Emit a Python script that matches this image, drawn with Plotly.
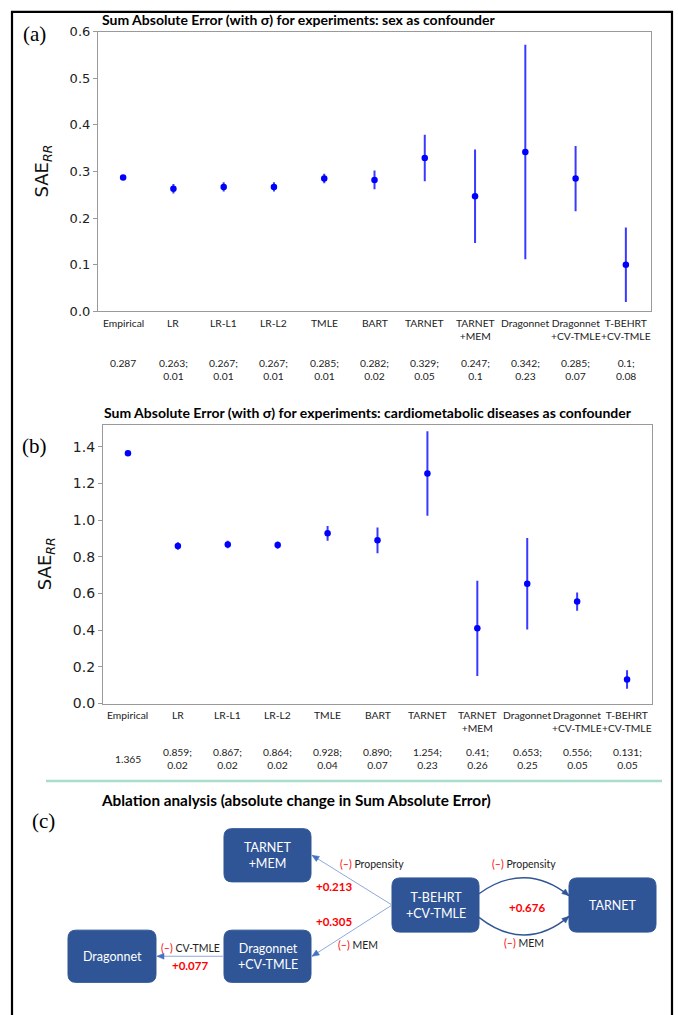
import plotly.graph_objects as go

# ---------------- data ----------------
categories = ["Empirical", "LR", "LR-L1", "LR-L2", "TMLE", "BART", "TARNET",
              "TARNET<br>+MEM", "Dragonnet", "Dragonnet<br>+CV-TMLE", "T-BEHRT<br>+CV-TMLE"]

sex_mean = ["0.287", "0.263", "0.267", "0.267", "0.285", "0.282", "0.329",
            "0.247", "0.342", "0.285", "0.1"]
sex_sd = ["", "0.01", "0.01", "0.01", "0.01", "0.02", "0.05", "0.1", "0.23", "0.07", "0.08"]

cardio_mean = ["1.365", "0.859", "0.867", "0.864", "0.928", "0.890", "1.254",
               "0.41", "0.653", "0.556", "0.131"]
cardio_sd = ["", "0.02", "0.02", "0.02", "0.04", "0.07", "0.23", "0.26", "0.25", "0.05", "0.05"]

sex_ticks = [0.0, 0.1, 0.2, 0.3, 0.4, 0.5, 0.6]
cardio_ticks = [0.0, 0.2, 0.4, 0.6, 0.8, 1.0, 1.2, 1.4]

title_a = "Sum Absolute Error (with σ) for experiments: sex as confounder"
title_b = "Sum Absolute Error (with σ) for experiments: cardiometabolic diseases as confounder"
title_c = "Ablation analysis (absolute change in Sum Absolute Error)"

# ablation diagram data
nodes = ["TARNET+MEM", "Dragonnet+CV-TMLE", "Dragonnet", "T-BEHRT+CV-TMLE", "TARNET"]
node_text = ["TARNET<br>+MEM", "Dragonnet<br>+CV-TMLE", "Dragonnet", "T-BEHRT<br>+CV-TMLE", "TARNET"]
edge_from = ["T-BEHRT+CV-TMLE", "T-BEHRT+CV-TMLE", "Dragonnet+CV-TMLE", "T-BEHRT+CV-TMLE"]
edge_to = ["TARNET+MEM", "Dragonnet+CV-TMLE", "Dragonnet", "TARNET"]
edge_removed = [["Propensity"], ["MEM"], ["CV-TMLE"], ["Propensity", "MEM"]]
edge_delta = [0.213, 0.305, 0.077, 0.676]

# ---------------- layout helpers (pixels -> paper) ----------------
W, H = 678, 1015
def px(x): return x / W
def py(y): return 1 - y / H

BLUE = "#0000FF"
BOX = "#2F5597"
TABLE_FONT = "Lato"

fig = go.Figure()

panels = [
    dict(mean=sex_mean, sd=sex_sd, xa="x", ya="y", xdom=(98, 651), ydom=(25, 309),
         yr=[0, 0.6], ticks=sex_ticks, tfs=13, title=title_a, tx=100, ty=13,
         lab="(a)", labx=34, laby=27, ytx=43,
         name_top=313, val_top=353, emp_mid=False),
    dict(mean=cardio_mean, sd=cardio_sd, xa="x2", ya="y2", xdom=(103, 652), ydom=(424, 707),
         yr=[0, 1.52], ticks=cardio_ticks, tfs=14, title=title_b, tx=102, ty=412,
         lab="(b)", labx=34, laby=446, ytx=46,
         name_top=710, val_top=748, emp_mid=True),
]

annotations = []
shapes = []

for i, p in enumerate(panels):
    means = [float(v) for v in p["mean"]]
    sds = [float(v) if v else 0.0 for v in p["sd"]]
    fig.add_trace(go.Scatter(
        x=list(range(len(categories))), y=means, mode="markers",
        marker=dict(color=BLUE, size=6.5),
        error_y=dict(type="data", array=sds, color="#3A3AFF", thickness=2, width=0),
        xaxis=p["xa"], yaxis=p["ya"], hoverinfo="skip"))

    xkey = "xaxis" if i == 0 else "xaxis2"
    ykey = "yaxis" if i == 0 else "yaxis2"
    fig.update_layout(**{
        xkey: dict(domain=[px(p["xdom"][0]), px(p["xdom"][1])], range=[-0.5, 10.5],
                   showgrid=False, zeroline=False, showticklabels=False, ticks="",
                   showline=True, mirror=True, linecolor="#9a9a9a", linewidth=1.2,
                   anchor=p["ya"]),
        ykey: dict(domain=[py(p["ydom"][1]), py(p["ydom"][0])], range=p["yr"],
                   tickvals=p["ticks"], ticktext=[f"{t:.1f}" for t in p["ticks"]],
                   ticks="outside", ticklen=4, tickcolor="#9a9a9a",
                   tickfont=dict(family="DejaVu Sans", size=p["tfs"], color="#222"),
                   showgrid=False, zeroline=False, showline=True, mirror=True,
                   linecolor="#9a9a9a", linewidth=1.2, anchor=p["xa"]),
    })

    # title
    annotations.append(dict(text=f"<b>{p['title']}</b>", x=px(p["tx"]), y=py(p["ty"]),
                            xref="paper", yref="paper", xanchor="left", yanchor="middle",
                            showarrow=False, font=dict(family=TABLE_FONT, size=14, color="black")))
    # panel label
    annotations.append(dict(text=p["lab"], x=px(p["labx"]), y=py(p["laby"]),
                            xref="paper", yref="paper", xanchor="center", yanchor="middle",
                            showarrow=False, font=dict(family="Liberation Serif", size=21, color="black")))
    # y title
    yc = (p["ydom"][0] + p["ydom"][1]) / 2
    annotations.append(dict(text="SAE<sub><i>RR</i></sub>", x=px(p["ytx"]), y=py(yc),
                            xref="paper", yref="paper", xanchor="center", yanchor="middle",
                            textangle=-90, showarrow=False,
                            font=dict(family="DejaVu Sans", size=18, color="#111")))
    # category table
    for k, cat in enumerate(categories):
        annotations.append(dict(text=cat, x=k, y=py(p["name_top"]), xref=p["xa"], yref="paper",
                                xanchor="center", yanchor="top", showarrow=False, align="center",
                                font=dict(family=TABLE_FONT, size=10.3, color="#222")))
        if p["sd"][k]:
            txt = f"{p['mean'][k]};<br>{p['sd'][k]}"
            yv, ya = py(p["val_top"]), "top"
        else:
            txt = p["mean"][k]
            if p["emp_mid"]:
                yv, ya = py(p["val_top"] + 15), "middle"
            else:
                yv, ya = py(p["val_top"]), "top"
        annotations.append(dict(text=txt, x=k, y=yv, xref=p["xa"], yref="paper",
                                xanchor="center", yanchor=ya, showarrow=False, align="center",
                                font=dict(family=TABLE_FONT, size=10.3, color="#222")))

# outer border and separator
shapes.append(dict(type="rect", xref="paper", yref="paper", x0=px(12), x1=px(672),
                   y0=py(1030), y1=py(5), line=dict(color="black", width=2.2)))
shapes.append(dict(type="line", xref="paper", yref="paper", x0=px(46), x1=px(662),
                   y0=py(785.5), y1=py(785.5), line=dict(color="#A9DCCB", width=2.5)))

# ---------------- ablation diagram ----------------
annotations.append(dict(text=f"<b>{title_c}</b>", x=px(296), y=py(805), xref="paper", yref="paper",
                        xanchor="center", yanchor="middle", showarrow=False,
                        font=dict(family=TABLE_FONT, size=15.3, color="black")))
annotations.append(dict(text="(c)", x=px(43), y=py(826), xref="paper", yref="paper",
                        xanchor="center", yanchor="middle", showarrow=False,
                        font=dict(family="Liberation Serif", size=21, color="black")))

# node geometry (pixels): center x, center y, width, height
node_pos = {
    "TARNET+MEM": (267.5, 861, 87, 54),
    "Dragonnet+CV-TMLE": (267.5, 963.5, 87, 53),
    "Dragonnet": (112, 963.5, 88, 53),
    "T-BEHRT+CV-TMLE": (435.5, 911.5, 87, 55),
    "TARNET": (612.5, 911.5, 87, 55),
}

def P(x, y):
    return f"{px(x):.6f},{py(y):.6f}"

def rrect(cx, cy, w, h, r=8):
    x0, x1, y0, y1 = cx - w / 2, cx + w / 2, cy - h / 2, cy + h / 2
    return (f"M {P(x0+r,y0)} L {P(x1-r,y0)} Q {P(x1,y0)} {P(x1,y0+r)} "
            f"L {P(x1,y1-r)} Q {P(x1,y1)} {P(x1-r,y1)} L {P(x0+r,y1)} "
            f"Q {P(x0,y1)} {P(x0,y1-r)} L {P(x0,y0+r)} Q {P(x0,y0)} {P(x0+r,y0)} Z")

def arrowhead(tx, ty, fx, fy, color, L=7, Wd=6):
    dx, dy = tx - fx, ty - fy
    n = (dx * dx + dy * dy) ** 0.5
    ux, uy = dx / n, dy / n
    bx, by = tx - ux * L, ty - uy * L
    nx, ny = -uy, ux
    return dict(type="path", xref="paper", yref="paper",
                path=f"M {P(tx,ty)} L {P(bx+nx*Wd/2,by+ny*Wd/2)} L {P(bx-nx*Wd/2,by-ny*Wd/2)} Z",
                fillcolor=color, line=dict(color=color, width=0.5))

for name, txt in zip(nodes, node_text):
    cx, cy, w, h = node_pos[name]
    shapes.append(dict(type="path", xref="paper", yref="paper", path=rrect(cx, cy, w, h),
                       fillcolor=BOX, line=dict(color=BOX, width=1)))
    annotations.append(dict(text=txt, x=px(cx), y=py(cy), xref="paper", yref="paper",
                            xanchor="center", yanchor="middle", showarrow=False, align="center",
                            font=dict(family=TABLE_FONT, size=12.5, color="white")))

# label placement for each edge (pixels): removed-label centres, delta centre
edge_label_pos = [
    dict(removed=[(372, 870)], delta=(334, 893)),
    dict(removed=[(358, 952)], delta=(334, 928)),
    dict(removed=[(190, 955)], delta=(190, 973)),
    dict(removed=[(524, 870), (524, 950)], delta=(527, 914)),
]

LIGHT = "#8FAADC"
HEAD = "#4472C4"
for e, (a, b) in enumerate(zip(edge_from, edge_to)):
    ax_, ay_, aw, ah = node_pos[a]
    bx_, by_, bw, bh = node_pos[b]
    if e < 3:
        sx, sy = ax_ - aw / 2, ay_
        tx, ty = bx_ + bw / 2 + 1, by_
        shapes.append(dict(type="line", xref="paper", yref="paper", x0=px(sx), y0=py(sy),
                           x1=px(tx), y1=py(ty), line=dict(color=LIGHT, width=1)))
        shapes.append(arrowhead(tx, ty, sx, sy, HEAD))
    else:
        for off_s, off_t, ctrl in [(-11.5, -9.5, -33.5), (12.5, 11.5, 36.5)]:
            sx, sy = ax_ + aw / 2, ay_ + off_s
            tx, ty = bx_ - bw / 2, by_ + off_t
            c1 = (sx + 30, ay_ + ctrl)
            c2 = (tx - 29, ay_ + ctrl)
            shapes.append(dict(type="path", xref="paper", yref="paper",
                               path=f"M {P(sx,sy)} C {P(*c1)} {P(*c2)} {P(tx,ty)}",
                               line=dict(color=BOX, width=1.4)))
            shapes.append(arrowhead(tx, ty, c2[0], c2[1], BOX))
    for comp, (lx, ly) in zip(edge_removed[e], edge_label_pos[e]["removed"]):
        annotations.append(dict(text=f"<span style='color:#FF0000'>(–)</span> {comp}",
                                x=px(lx), y=py(ly), xref="paper", yref="paper",
                                xanchor="center", yanchor="middle", showarrow=False,
                                font=dict(family=TABLE_FONT, size=10.5, color="#222")))
    dx, dy = edge_label_pos[e]["delta"]
    annotations.append(dict(text=f"<b>+{edge_delta[e]:.3f}</b>", x=px(dx), y=py(dy),
                            xref="paper", yref="paper", xanchor="center", yanchor="middle",
                            showarrow=False, font=dict(family=TABLE_FONT, size=11.5, color="#FF0000")))

fig.update_layout(width=W, height=H, margin=dict(l=0, r=0, t=0, b=0),
                  paper_bgcolor="white", plot_bgcolor="white", showlegend=False,
                  annotations=annotations, shapes=shapes)

fig.write_html("out.html", config={"displayModeBar": False},
               post_script="document.body.style.margin='0px';document.body.style.overflow='hidden';")
